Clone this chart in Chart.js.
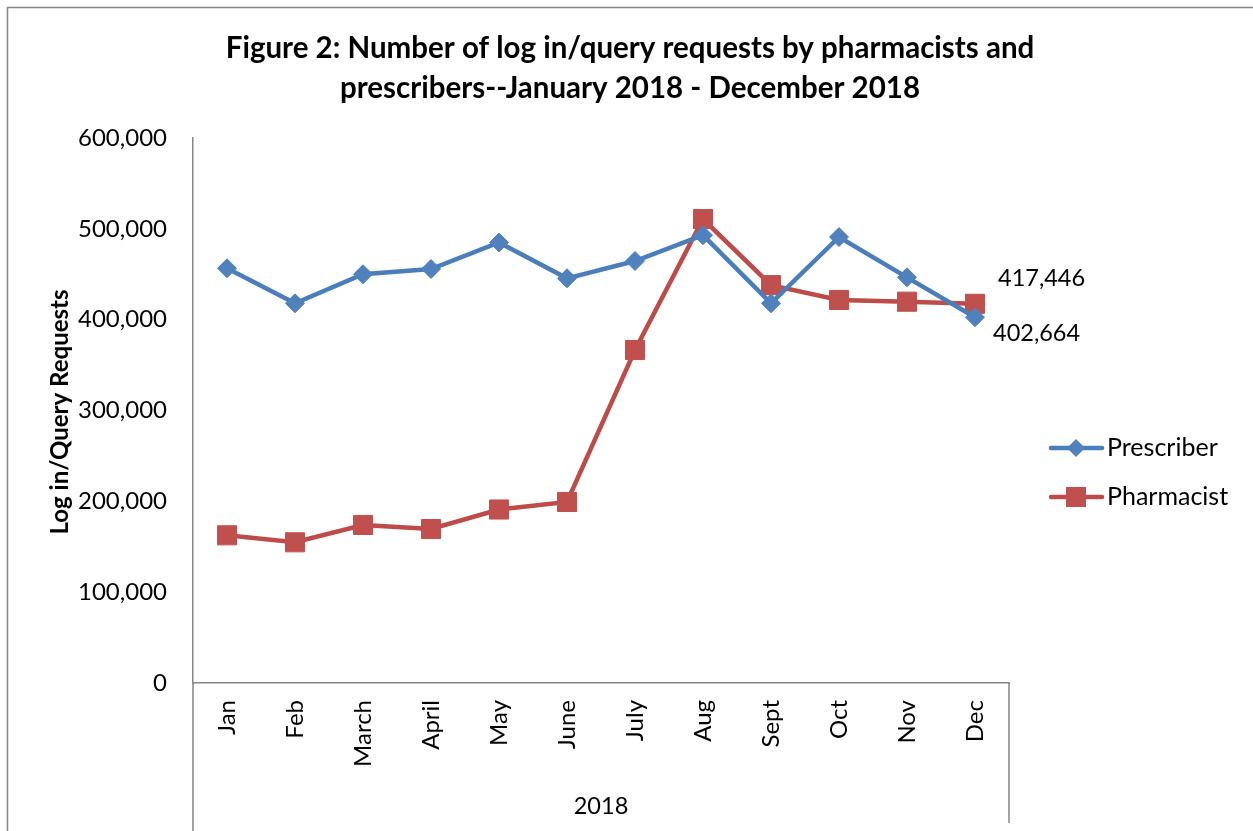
<!DOCTYPE html>
<html>
<head>
<meta charset="utf-8">
<script src="https://cdn.jsdelivr.net/npm/chart.js@4/dist/chart.umd.min.js"></script>
<style>
  html, body { margin: 0; padding: 0; background: #fff; overflow: hidden; }
  canvas { display: block; }
</style>
</head>
<body>
<canvas id="chart" width="1253" height="831"></canvas>
<script>
// values
const months = ['Jan', 'Feb', 'March', 'April', 'May', 'June', 'July', 'Aug', 'Sept', 'Oct', 'Nov', 'Dec'];
const prescriber = [456600, 418000, 450000, 455800, 485000, 445500, 464600, 493000, 418000, 491000, 446600, 402664];
const pharmacist = [162600, 154900, 174000, 169500, 191000, 199300, 366600, 510800, 438000, 421700, 419800, 417446];
const yTicks = [0, 100000, 200000, 300000, 400000, 500000, 600000];

const titleLines = ['Figure 2: Number of log in/query requests by pharmacists and',
                    'prescribers--January 2018 - December 2018'];
const yTitle = 'Log in/Query Requests';
const groupLabel = '2018';

const FONT = 'Lato, "Open Sans", sans-serif';
const BLUE = '#4A7EBB';
const BLUE_MARK = '#4F81BD';
const RED = '#BE4B48';
const RED_MARK = '#C0504D';
const AXIS = '#868686';

function fmt(v) {
    return v.toLocaleString('en-US');
}

function diamond(ctx, x, y, r) {
    ctx.beginPath();
    ctx.moveTo(x - r, y);
    ctx.lineTo(x, y - r);
    ctx.lineTo(x + r, y);
    ctx.lineTo(x, y + r);
    ctx.closePath();
    ctx.fill();
}

// everything Excel draws around the plot: titles, group axis, labels, legend
const decor = {
    id: 'decor',
    afterDraw(chart) {
        const ctx = chart.ctx;
        const area = chart.chartArea;
        ctx.save();

        // outer chart frame (only left/top visible in the crop)
        ctx.strokeStyle = AXIS;
        ctx.lineWidth = 1.5;
        ctx.strokeRect(7.5, 7.5, 1400, 1000);

        // title
        ctx.fillStyle = '#000';
        ctx.textAlign = 'center';
        ctx.textBaseline = 'middle';
        ctx.font = 'bold 29.5px ' + FONT;
        ctx.fillText(titleLines[0], 630, 48);
        ctx.fillText(titleLines[1], 630, 88);

        // y axis title
        ctx.save();
        ctx.translate(60, 412);
        ctx.rotate(-Math.PI / 2);
        ctx.font = 'bold 24px ' + FONT;
        ctx.fillText(yTitle, 0, 0);
        ctx.restore();

        // multi-level category axis: side lines and group label
        ctx.strokeStyle = AXIS;
        ctx.lineWidth = 1.5;
        ctx.beginPath();
        ctx.moveTo(area.left, area.bottom);
        ctx.lineTo(area.left, 831);
        ctx.moveTo(area.right, area.bottom);
        ctx.lineTo(area.right, 823);
        ctx.stroke();
        ctx.font = '23.5px ' + FONT;
        ctx.fillText(groupLabel, (area.left + area.right) / 2, 806);

        // data labels on the last points
        const last = months.length - 1;
        const pPres = chart.getDatasetMeta(0).data[last];
        const pPharm = chart.getDatasetMeta(1).data[last];
        ctx.textAlign = 'left';
        ctx.fillText(fmt(pharmacist[last]), pPharm.x + 23, pPharm.y - 25);
        ctx.fillText(fmt(prescriber[last]), pPres.x + 18, pPres.y + 16);

        // legend
        const items = [
            { label: 'Prescriber', line: BLUE, mark: BLUE_MARK, shape: 'diamond', y: 448 },
            { label: 'Pharmacist', line: RED, mark: RED_MARK, shape: 'square', y: 497 }
        ];
        ctx.font = '25px ' + FONT;
        items.forEach(it => {
            ctx.strokeStyle = it.line;
            ctx.lineWidth = 4.5;
            ctx.lineCap = 'round';
            ctx.beginPath();
            ctx.moveTo(1051, it.y);
            ctx.lineTo(1102, it.y);
            ctx.stroke();
            ctx.fillStyle = it.mark;
            if (it.shape === 'diamond') {
                diamond(ctx, 1076, it.y, 9);
            } else {
                ctx.fillRect(1066, it.y - 10, 20, 20);
            }
            ctx.fillStyle = '#000';
            ctx.textBaseline = 'middle';
            ctx.fillText(it.label, 1107, it.y);
        });

        ctx.restore();
    }
};

new Chart(document.getElementById('chart'), {
    type: 'line',
    data: {
        labels: months,
        datasets: [
            {
                label: 'Prescriber',
                data: prescriber,
                borderColor: BLUE,
                backgroundColor: BLUE_MARK,
                borderWidth: 4.5,
                pointStyle: 'rectRot',
                pointRadius: 9.5,
                pointBorderWidth: 1,
                pointBorderColor: BLUE_MARK,
                pointBackgroundColor: BLUE_MARK,
                tension: 0
            },
            {
                label: 'Pharmacist',
                data: pharmacist,
                borderColor: RED,
                backgroundColor: RED_MARK,
                borderWidth: 4.5,
                pointStyle: 'rect',
                pointRadius: 13.5,
                pointBorderWidth: 1,
                pointBorderColor: RED_MARK,
                pointBackgroundColor: RED_MARK,
                tension: 0
            }
        ]
    },
    options: {
        responsive: false,
        animation: false,
        devicePixelRatio: 1,
        layout: { padding: { top: 138, right: 244, left: 0, bottom: 0 } },
        plugins: {
            legend: { display: false },
            title: { display: false },
            tooltip: { enabled: false }
        },
        scales: {
            x: {
                offset: true,
                grid: { display: false, drawTicks: false },
                border: { display: true, color: AXIS, width: 1.5 },
                ticks: {
                    autoSkip: false,
                    minRotation: 90,
                    maxRotation: 90,
                    padding: 17,
                    color: '#000',
                    font: { family: FONT, size: 24 }
                },
                afterFit(scale) { scale.height = 148; }
            },
            y: {
                min: 0,
                max: 600000,
                afterBuildTicks(scale) { scale.ticks = yTicks.map(v => ({ value: v })); },
                grid: { display: false, drawTicks: false },
                border: { display: true, color: AXIS, width: 1.5 },
                ticks: {
                    padding: 26,
                    color: '#000',
                    font: { family: FONT, size: 24 },
                    callback: v => fmt(v)
                },
                afterFit(scale) { scale.width = 193; }
            }
        }
    },
    plugins: [decor]
});
</script>
</body>
</html>
